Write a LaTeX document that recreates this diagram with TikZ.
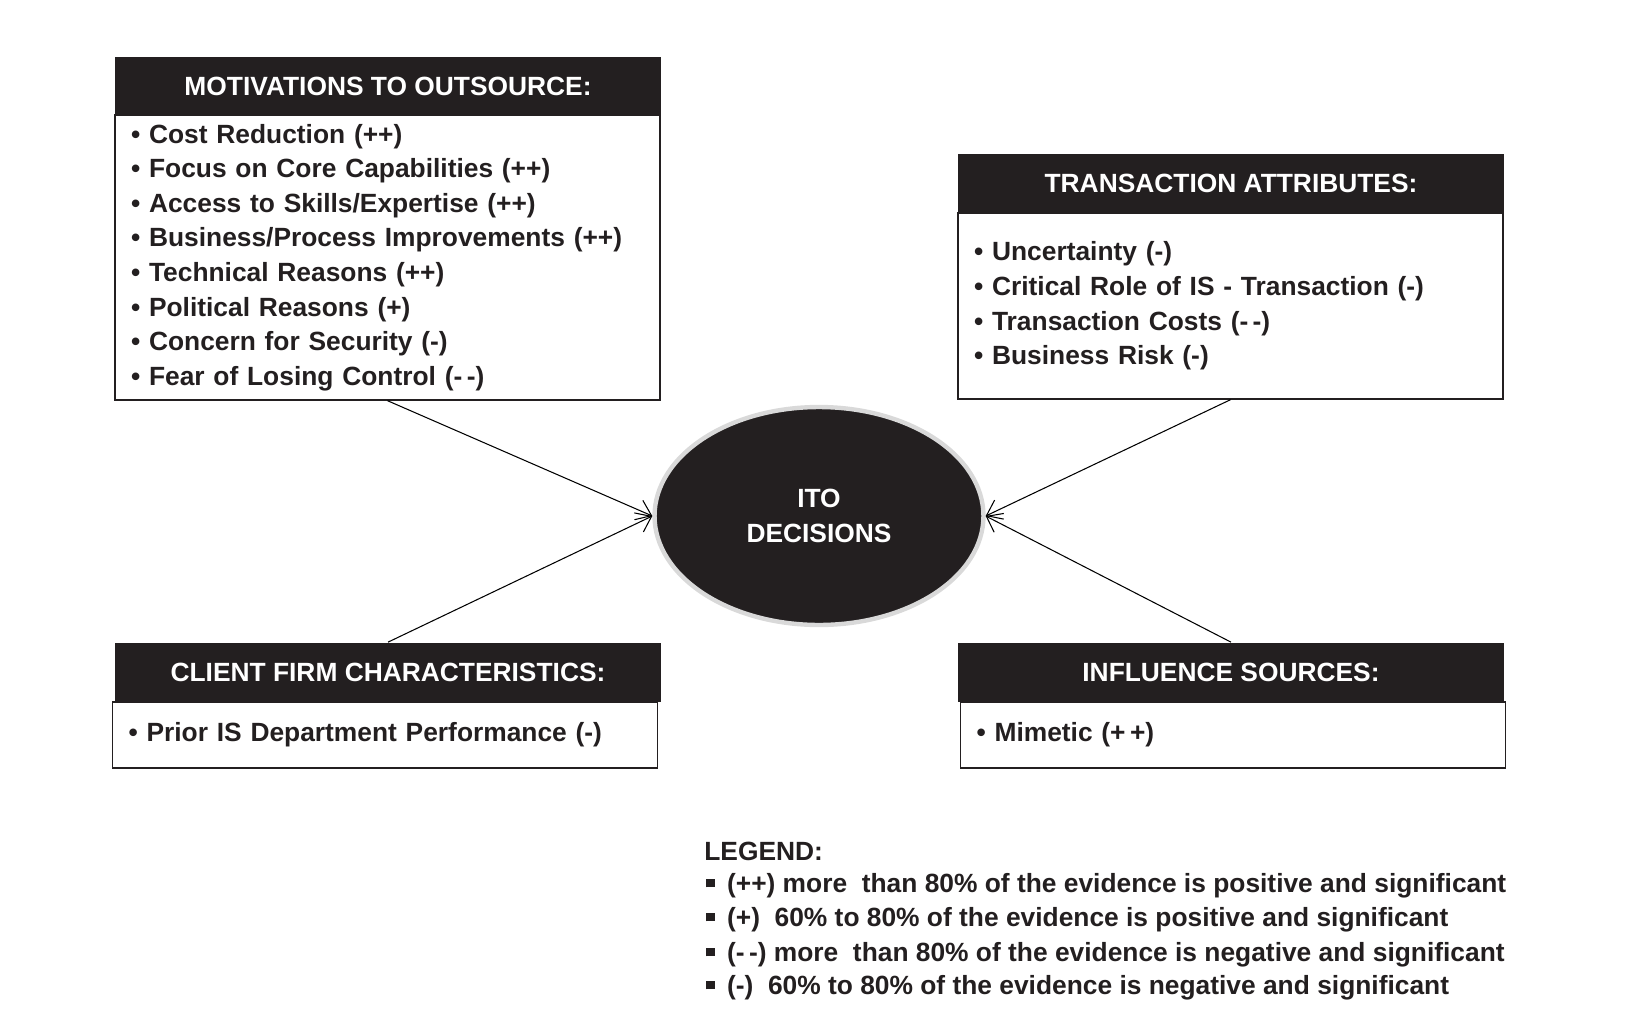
\documentclass[tikz,border=0pt]{standalone}
\usepackage{fontspec}
\setmainfont{Liberation Sans}
\usetikzlibrary{arrows.meta,shapes.geometric}
\definecolor{ink}{HTML}{231F20}
\newcommand{\legsq}{\rule[3pt]{4.8pt}{4.8pt}\hspace{7pt}}

\begin{document}
\begin{tikzpicture}
  [x=0.02cm,y=-0.02cm,
   every node/.style={font=\fontsize{15}{19.7}\selectfont\bfseries,text=ink},
   head/.style={rectangle,fill=ink,text=white,minimum width=10.92cm,minimum height=1.18cm,inner sep=0pt},
   body/.style={rectangle,draw=ink,line width=0.8pt,inner xsep=0.32cm,inner ysep=0pt,text width=10.26cm,align=left}]
  \useasboundingbox (0,0) rectangle (1636,1021);

  \node[head] (mhead) at (388,86) {MOTIVATIONS TO OUTSOURCE:};
  \node[body,minimum height=5.7cm] (mbody) at (387.5,257.5) {• Cost Reduction (++)\\
    • Focus on Core Capabilities (++)\\
    • Access to Skills/Expertise (++)\\
    • Business/Process Improvements (++)\\
    • Technical Reasons (++)\\
    • Political Reasons (+)\\
    • Concern for Security (-)\\
    • Fear of Losing Control (-\,-)};

  \node[head] (thead) at (1231,183) {TRANSACTION ATTRIBUTES:};
  \node[body,minimum height=3.72cm] (tbody) at (1230.5,306) {• Uncertainty (-)\\
    • Critical Role of IS - Transaction (-)\\
    • Transaction Costs (-\,-)\\
    • Business Risk (-)};

  \node[head] (chead) at (388,672) {CLIENT FIRM CHARACTERISTICS:};
  \node[body,minimum height=1.32cm] (cbody) at (385,735) {• Prior IS Department Performance (-)};

  \node[head] (ihead) at (1231,672) {INFLUENCE SOURCES:};
  \node[body,minimum height=1.32cm] (ibody) at (1233,735) {• Mimetic (+\,+)};

  \node[ellipse,fill=ink,draw=black!15,line width=2.5pt,minimum width=6.58cm,minimum height=4.36cm,
    text=white,align=center] (ito) at (819,516) {ITO\\DECISIONS};

  \begin{scope}[line width=0.6pt,-{Straight Barb[length=8pt,width=12pt]}]
  \foreach \from/\to in {mbody.south/ito.west,chead.north/ito.west,tbody.south/ito.east,ihead.north/ito.east}
    \draw (\from) -- (\to);
  \end{scope}

  % legend
  \node[anchor=west,inner sep=0pt] (legend) at (704,851) {LEGEND:};
  \foreach \y/\txt [count=\i] in {886/{(++) more\ \ than 80\% of the evidence is positive and significant},
      920/{(+)\ \ 60\% to 80\% of the evidence is positive and significant},
      955/{(-\,-) more\ \ than 80\% of the evidence is negative and significant},
      988/{(-)\ \ 60\% to 80\% of the evidence is negative and significant}}
    \node[anchor=west,inner sep=0pt] (leg\i) at (706,\y) {\legsq\txt};
\end{tikzpicture}
\end{document}
